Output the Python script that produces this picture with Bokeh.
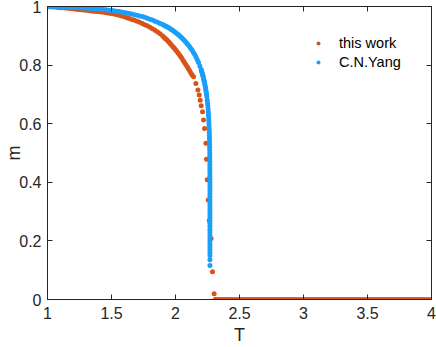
from bokeh.plotting import figure
from bokeh.models import Range1d, LinearAxis, Legend, LegendItem, FixedTicker
from bokeh.embed import file_html
from bokeh.resources import INLINE

# ---------------- data ----------------
this_work_T = [
    1.00, 1.02, 1.04, 1.06, 1.08, 1.10, 1.12, 1.14, 1.16, 1.18,
    1.20, 1.22, 1.24, 1.26, 1.28, 1.30, 1.32, 1.34, 1.36, 1.38,
    1.40, 1.42, 1.44, 1.46, 1.48, 1.50, 1.52, 1.54, 1.56, 1.58,
    1.60, 1.62, 1.64, 1.66, 1.68, 1.70, 1.72, 1.74, 1.76, 1.78,
    1.80, 1.82, 1.84, 1.86, 1.88,
    1.90, 1.91, 1.92, 1.93, 1.94, 1.95, 1.96, 1.97, 1.98, 1.99,
    2.00, 2.01, 2.02, 2.03, 2.04, 2.05, 2.06, 2.07, 2.08, 2.09,
    2.10, 2.11, 2.12, 2.13,
    2.141, 2.159, 2.175, 2.185, 2.193, 2.201, 2.211, 2.219, 2.227,
    2.2375, 2.242, 2.248, 2.256, 2.264, 2.278, 2.289, 2.302,
    2.31, 2.32, 2.34, 2.36, 2.38, 2.40, 2.42, 2.44, 2.46, 2.48,
    2.50, 2.52, 2.54, 2.56, 2.58, 2.60, 2.62, 2.64, 2.66, 2.68,
    2.70, 2.72, 2.74, 2.76, 2.78, 2.80, 2.82, 2.84, 2.86, 2.88,
    2.90, 2.92, 2.94, 2.96, 2.98, 3.00, 3.02, 3.04, 3.06, 3.08,
    3.10, 3.12, 3.14, 3.16, 3.18, 3.20, 3.22, 3.24, 3.26, 3.28,
    3.30, 3.32, 3.34, 3.36, 3.38, 3.40, 3.42, 3.44, 3.46, 3.48,
    3.50, 3.52, 3.54, 3.56, 3.58, 3.60, 3.62, 3.64, 3.66, 3.68,
    3.70, 3.72, 3.74, 3.76, 3.78, 3.80, 3.82, 3.84, 3.86, 3.88,
    3.90, 3.92, 3.94, 3.96, 3.98, 4.00,
]
this_work_m = [
    0.999, 0.999, 0.998, 0.998, 0.997, 0.996, 0.996, 0.995, 0.994, 0.993,
    0.992, 0.991, 0.990, 0.989, 0.988, 0.987, 0.986, 0.985, 0.984, 0.983,
    0.982, 0.981, 0.980, 0.979, 0.977, 0.976, 0.974, 0.972, 0.970, 0.968,
    0.965, 0.962, 0.959, 0.956, 0.953, 0.950, 0.946, 0.942, 0.938, 0.934,
    0.929, 0.924, 0.919, 0.913, 0.907,
    0.899, 0.895, 0.891, 0.887, 0.882, 0.878, 0.873, 0.868, 0.863, 0.858,
    0.852, 0.847, 0.841, 0.835, 0.829, 0.823, 0.816, 0.809, 0.802, 0.795,
    0.788, 0.781, 0.773, 0.766,
    0.760, 0.737, 0.715, 0.698, 0.680, 0.661, 0.641, 0.613, 0.584,
    0.533, 0.479, 0.409, 0.340, 0.270, 0.208, 0.095, 0.020,
] + [0.0] * 86

yang_T = [
    1.00, 1.02, 1.04, 1.06, 1.08, 1.10, 1.12, 1.14, 1.16, 1.18,
    1.20, 1.22, 1.24, 1.26, 1.28, 1.30, 1.32, 1.34, 1.36, 1.38,
    1.40, 1.42, 1.44, 1.46, 1.48, 1.50, 1.52, 1.54, 1.56, 1.58,
    1.60, 1.62, 1.64, 1.66, 1.68, 1.70, 1.72, 1.74, 1.76, 1.78,
    1.80, 1.82, 1.84, 1.86, 1.88,
    1.90, 1.91, 1.92, 1.93, 1.94, 1.95, 1.96, 1.97, 1.98, 1.99,
    2.00, 2.01, 2.02, 2.03, 2.04, 2.05, 2.06, 2.07, 2.08, 2.09,
    2.10, 2.11, 2.12, 2.13, 2.14, 2.15, 2.16, 2.17, 2.18, 2.19,
    2.20, 2.2025, 2.205, 2.2075, 2.21, 2.2125, 2.215, 2.2175, 2.22, 2.2225,
    2.225, 2.2275, 2.23, 2.2325, 2.235, 2.2375, 2.24, 2.2425, 2.245,
    2.2482, 2.2506, 2.2527, 2.2546, 2.2563, 2.2578, 2.2592, 2.2604, 2.2615,
    2.2624, 2.2633, 2.2641, 2.2648, 2.2653, 2.2659, 2.2663, 2.2667, 2.2671,
    2.2674, 2.2677, 2.2679, 2.2681, 2.2683, 2.2684, 2.2685, 2.2686, 2.2687,
    2.2688, 2.2689,
] + [2.269] * 27
yang_m = [
    0.9993, 0.9992, 0.9990, 0.9988, 0.9986, 0.9984, 0.9982, 0.9979, 0.9976, 0.9973,
    0.9970, 0.9966, 0.9961, 0.9956, 0.9952, 0.9948, 0.9942, 0.9936, 0.9929, 0.9922,
    0.9914, 0.9905, 0.9896, 0.9887, 0.9876, 0.9865, 0.9853, 0.9840, 0.9827, 0.9812,
    0.9796, 0.9779, 0.9761, 0.9743, 0.9722, 0.9701, 0.9678, 0.9655, 0.9630, 0.9600,
    0.9569, 0.9535, 0.9500, 0.9463, 0.9424,
    0.9383, 0.9361, 0.9338, 0.9315, 0.9290, 0.9265, 0.9239, 0.9210, 0.9180, 0.9147,
    0.9113, 0.9079, 0.9043, 0.9006, 0.8968, 0.8928, 0.8884, 0.8838, 0.8791, 0.8741,
    0.8688, 0.8630, 0.8569, 0.8503, 0.8434, 0.8358, 0.8275, 0.8184, 0.8085, 0.7973,
    0.7848, 0.7814, 0.7778, 0.7742, 0.7704, 0.7665, 0.7624, 0.7581, 0.7535, 0.7487,
    0.7437, 0.7385, 0.7331, 0.7272, 0.7210, 0.7144, 0.7073, 0.6998, 0.6917,
    0.68, 0.67, 0.66, 0.65, 0.64, 0.63, 0.62, 0.61, 0.60,
    0.59, 0.58, 0.57, 0.56, 0.55, 0.54, 0.53, 0.52, 0.51,
    0.50, 0.49, 0.48, 0.47, 0.46, 0.45, 0.44, 0.43, 0.42,
    0.41, 0.40,
    0.39, 0.38, 0.37, 0.36, 0.35, 0.34, 0.33, 0.32, 0.31, 0.30,
    0.29, 0.28, 0.27, 0.26, 0.25, 0.24, 0.23, 0.22, 0.21, 0.20,
    0.19, 0.18, 0.17, 0.16, 0.15, 0.136, 0.116,
]

x_ticks = [1, 1.5, 2, 2.5, 3, 3.5, 4]
x_tick_labels = ["1", "1.5", "2", "2.5", "3", "3.5", "4"]
y_ticks = [0, 0.2, 0.4, 0.6, 0.8, 1]
y_tick_labels = ["0", "0.2", "0.4", "0.6", "0.8", "1"]
series_names = ["this work", "C.N.Yang"]
x_title = "T"
y_title = "m"

# ---------------- styling ----------------
FONT = "Liberation Sans"
AX = "#262626"
ORANGE = "#D95319"
BLUE = "#18A0FA"

p = figure(width=436, height=347, output_backend="svg", toolbar_location=None,
           x_range=Range1d(1, 4), y_range=Range1d(0, 1),
           min_border_left=47, min_border_right=5, min_border_top=6,
           min_border_bottom=47)
p.background_fill_color = "white"
p.border_fill_color = "white"
p.outline_line_color = AX
p.outline_line_width = 1
p.xgrid.visible = False
p.ygrid.visible = False

r1 = p.scatter(this_work_T, this_work_m, size=5, color=ORANGE, line_color=None)
r2 = p.scatter(yang_T, yang_m, size=5, color=BLUE, line_color=None)


def style_axis(ax, ticks, labels, show_labels=True, standoff=6):
    ax.ticker = FixedTicker(ticks=ticks)
    ax.major_label_overrides = {t: l for t, l in zip(ticks, labels)}
    ax.axis_line_color = AX
    ax.major_tick_line_color = AX
    ax.major_tick_in = 5
    ax.major_tick_out = 0
    ax.minor_tick_line_color = None
    ax.major_label_text_font = FONT
    ax.axis_label_text_font = FONT
    ax.axis_label_text_font_style = "normal"
    ax.axis_label_text_color = AX
    ax.axis_label_text_font_size = "18px"
    ax.axis_label_text_line_height = 1.0
    if show_labels:
        ax.major_label_text_color = AX
        ax.major_label_text_font_size = "16px"
        ax.major_label_standoff = standoff
    else:
        ax.major_label_text_color = None
        ax.major_label_text_font_size = "1px"
        ax.major_label_standoff = 0


style_axis(p.xaxis[0], x_ticks, x_tick_labels, standoff=7)
style_axis(p.yaxis[0], y_ticks, y_tick_labels, standoff=6)
p.xaxis[0].axis_label = x_title
p.yaxis[0].axis_label = y_title
p.xaxis[0].axis_label_standoff = 3
p.yaxis[0].axis_label_standoff = -8

top = LinearAxis()
right = LinearAxis()
style_axis(top, x_ticks, x_tick_labels, show_labels=False)
style_axis(right, y_ticks, y_tick_labels, show_labels=False)
p.add_layout(top, "above")
p.add_layout(right, "right")

legend = Legend(items=[LegendItem(label=series_names[0], renderers=[r1]),
                       LegendItem(label=series_names[1], renderers=[r2])],
                location=(266, 228))
legend.background_fill_alpha = 0
legend.border_line_color = None
legend.padding = 0
legend.margin = 0
legend.spacing = 1
legend.glyph_width = 10
legend.glyph_height = 18
legend.label_height = 18
legend.label_standoff = 16
legend.label_text_font = FONT
legend.label_text_font_size = "14.5px"
legend.label_text_color = "#000000"
p.add_layout(legend, "center")

open("out.html", "w").write(file_html(p, INLINE))
